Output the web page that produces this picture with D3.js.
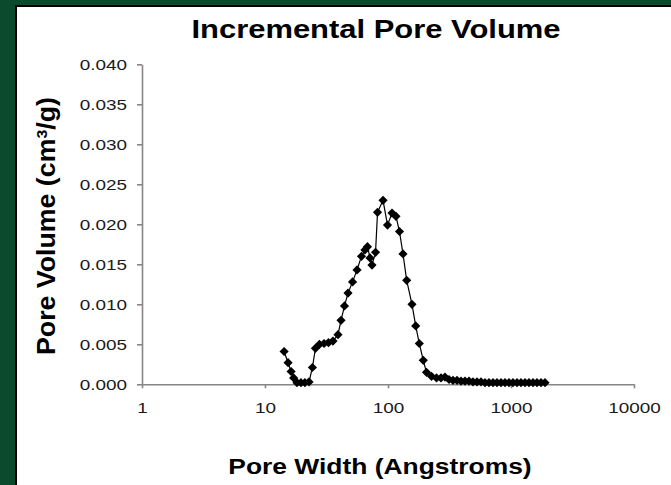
<!DOCTYPE html>
<html>
<head>
<meta charset="utf-8">
<script src="https://cdn.jsdelivr.net/npm/d3@7"></script>
<style>
  html, body { margin: 0; padding: 0; background: #0b4a2c; }
  svg { display: block; }
  text { font-family: "Liberation Sans", Arial, sans-serif; }
</style>
</head>
<body>
<script>
// pore width (Angstroms) and incremental pore volume (cm3/g)
var poreWidth = [14.3, 15.4, 16.3, 17.1, 18.2, 19.6, 21.1, 22.8, 24.3, 25.7,
    27.7, 30.2, 32.8, 35.7, 39.2, 41.5, 44.3, 47.3, 51.5, 56.0,
    60.9, 65.0, 68.1, 71.4, 74.1, 79.2, 82.2, 91.1, 99.1, 107.8,
    116.1, 124.0, 132.4, 141.9, 156.7, 168.0, 179.7, 193.6, 205.6, 225.8,
    248.0, 269.7, 290.6, 313.3, 337.7, 363.9, 392.2, 422.7, 455.6, 490.9,
    529.1, 570.3, 614.6, 662.4, 714.0, 769.5, 829.3, 893.8, 963.2, 1038,
    1119, 1206, 1300, 1401, 1510, 1627, 1754, 1890];
var poreVolume = [0.0041, 0.0027, 0.0016, 0.0008, 0.0002, 0.0002, 0.0002, 0.0003, 0.0021, 0.0045,
    0.0050, 0.0051, 0.0052, 0.0054, 0.0062, 0.0080, 0.0098, 0.0114, 0.0128, 0.0143,
    0.0160, 0.0168, 0.0172, 0.0158, 0.0149, 0.0165, 0.0215, 0.0230, 0.0199, 0.0214,
    0.0210, 0.0191, 0.0163, 0.0130, 0.0100, 0.0073, 0.0051, 0.0030, 0.0015, 0.0010,
    0.0008, 0.0008, 0.0009, 0.0006, 0.0005, 0.0005, 0.0004, 0.0004, 0.0004, 0.0003,
    0.0003, 0.0003, 0.0002, 0.0002, 0.0002, 0.0002, 0.0002, 0.0002, 0.0002, 0.0002,
    0.0002, 0.0002, 0.0002, 0.0002, 0.0002, 0.0002, 0.0002, 0.0002];
var xTicks = [1, 10, 100, 1000, 10000];
var yTicks = [0, 0.005, 0.010, 0.015, 0.020, 0.025, 0.030, 0.035, 0.040];

var data = poreWidth.map(function (d, i) { return { x: d, y: poreVolume[i] }; });

var W = 671, H = 485;
var margin = { top: 64.3, left: 142, right: 37, bottom: 100.7 };

// the original text is a bit wider than plain Arial
function widen(sel, factor) {
    sel.each(function () {
        var len = this.getComputedTextLength();
        d3.select(this)
            .attr("textLength", len * factor)
            .attr("lengthAdjust", "spacingAndGlyphs");
    });
}

var svg = d3.select("body").append("svg")
    .attr("width", W)
    .attr("height", H);

// white chart panel with a dark edge at top and left
svg.append("rect")
    .attr("x", 15).attr("y", 5)
    .attr("width", W - 15).attr("height", H - 5)
    .attr("fill", "#000");
svg.append("rect")
    .attr("x", 17).attr("y", 7)
    .attr("width", W - 17).attr("height", H - 7)
    .attr("fill", "#fff");

var xScale = d3.scaleLog()
    .domain([1, 10000])
    .range([margin.left, W - margin.right]);
var yScale = d3.scaleLinear()
    .domain([0, 0.04])
    .range([H - margin.bottom, margin.top]);

// Y axis
svg.append("g")
    .attr("class", "y-axis")
    .attr("transform", "translate(" + margin.left + ",0)")
    .call(d3.axisLeft(yScale).tickValues(yTicks).tickFormat(d3.format(".3f"))
        .tickSize(5).tickSizeOuter(0).tickPadding(10));

// X axis
svg.append("g")
    .attr("class", "x-axis")
    .attr("transform", "translate(0," + (H - margin.bottom) + ")")
    .call(d3.axisBottom(xScale).tickValues(xTicks).tickFormat(d3.format("d"))
        .tickSize(4).tickSizeOuter(0).tickPadding(14));

svg.selectAll(".domain, .tick line")
    .attr("stroke", "#868686")
    .attr("stroke-width", 1.6);
svg.selectAll(".tick text")
    .attr("fill", "#1a1a1a")
    .style("font-size", "15.5px")
    .call(widen, 1.22);

// Line
var line = d3.line()
    .x(function (d) { return xScale(d.x); })
    .y(function (d) { return yScale(d.y); });

svg.append("path")
    .datum(data)
    .attr("fill", "none")
    .attr("stroke", "#000")
    .attr("stroke-width", 1.2)
    .attr("d", line);

// Diamond markers
svg.selectAll(".pt")
    .data(data)
    .enter().append("path")
    .attr("class", "pt")
    .attr("d", d3.symbol(d3.symbolSquare, 42))
    .attr("transform", function (d) {
        return "translate(" + xScale(d.x) + "," + yScale(d.y) + ") rotate(45)";
    })
    .attr("fill", "#000");

// Titles
svg.append("text")
    .attr("x", 376).attr("y", 38)
    .attr("text-anchor", "middle")
    .style("font-size", "26px")
    .style("font-weight", "bold")
    .text("Incremental Pore Volume")
    .call(widen, 1.19);

svg.append("text")
    .attr("x", 380).attr("y", 474)
    .attr("text-anchor", "middle")
    .style("font-size", "22px")
    .style("font-weight", "bold")
    .text("Pore Width (Angstroms)")
    .call(widen, 1.2);

var yTitle = svg.append("text")
    .attr("transform", "translate(55,226) rotate(-90)")
    .attr("text-anchor", "middle")
    .style("font-size", "25px")
    .style("font-weight", "bold");
yTitle.append("tspan").text("Pore Volume (cm");
yTitle.append("tspan").attr("baseline-shift", "super").style("font-size", "15px").text("3");
yTitle.append("tspan").text("/g)");
yTitle.attr("textLength", 258).attr("lengthAdjust", "spacingAndGlyphs");
</script>
</body>
</html>
